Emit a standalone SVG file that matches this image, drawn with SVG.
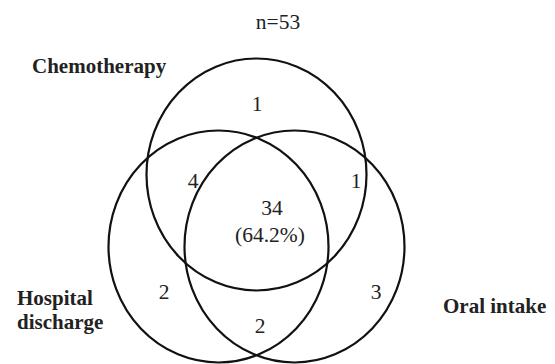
<svg xmlns="http://www.w3.org/2000/svg" width="555" height="364" viewBox="0 0 555 364">
<style>
.c{fill:none;stroke:#111;stroke-width:2.2}
.n{font-family:"Liberation Serif","Times New Roman",serif;font-size:21.5px;fill:#222;text-anchor:middle}
.l{font-family:"Liberation Serif","Times New Roman",serif;font-size:21px;font-weight:bold;fill:#222}
</style>
<rect width="555" height="364" fill="#fff"/>
<g id="connectors"></g>
<g id="chemotherapy">
<ellipse class="c" cx="256.5" cy="174.5" rx="110" ry="116"/>
<text class="l" x="32" y="73">Chemotherapy</text>
</g>
<g id="hospital-discharge">
<ellipse class="c" cx="218.5" cy="246.5" rx="110" ry="116"/>
<text class="l" x="17" y="305">Hospital</text>
<text class="l" x="17" y="329">discharge</text>
</g>
<g id="oral-intake">
<ellipse class="c" cx="294.5" cy="246.5" rx="110" ry="116"/>
<text class="l" x="443" y="313">Oral intake</text>
</g>
<g id="counts">
<text class="n" x="278" y="29">n=53</text>
<text class="n" x="257" y="111">1</text>
<text class="n" x="193" y="188">4</text>
<text class="n" x="356" y="188">1</text>
<text class="n" x="272" y="215">34</text>
<text class="n" x="270" y="242">(64.2%)</text>
<text class="n" x="164" y="299">2</text>
<text class="n" x="376" y="299">3</text>
<text class="n" x="260" y="333">2</text>
</g>
</svg>
